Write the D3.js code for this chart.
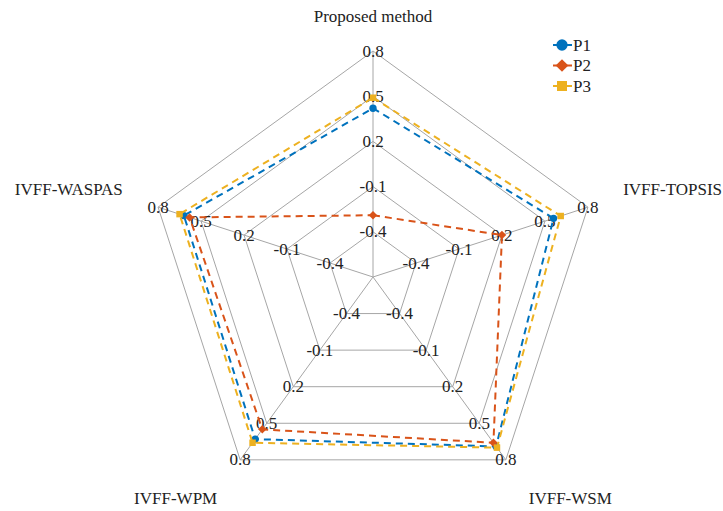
<!DOCTYPE html>
<html><head><meta charset="utf-8">
<script src="https://cdn.jsdelivr.net/npm/d3@7"></script>
<style>body{margin:0;background:#fff}svg{display:block}</style>
</head><body><svg id="c" width="723" height="511"></svg>
<script>
const axesNames = ["Proposed method","IVFF-TOPSIS","IVFF-WSM","IVFF-WPM","IVFF-WASPAS"];
const tickValues = [-0.4,-0.1,0.2,0.5,0.8];
const tickLabels = ["-0.4","-0.1","0.2","0.5","0.8"];
const seriesNames = ["P1","P2","P3"];
const P1 = [0.42, 0.56, 0.69, 0.63, 0.62];
const P2 = [-0.29, 0.20, 0.66, 0.55, 0.58];
const P3 = [0.49, 0.61, 0.70, 0.66, 0.65];
const seriesValues = [P1, P2, P3];
const colors = ["#0072BD","#D95319","#EDB120"];
const symbols = [d3.symbolCircle, d3.symbolSquare, d3.symbolSquare];
const FONT = "'Liberation Serif','Times New Roman',serif";
const FS = 17;

const svg = d3.select("#c");
const cx = 373, cy = 277, R = 226;
const r = d3.scaleLinear().domain([-0.7, 0.8]).range([0, R]);
const ang = d3.scalePoint().domain(d3.range(axesNames.length)).range([0, 2*Math.PI*(axesNames.length-1)/axesNames.length]);
const pt = (i, v) => [cx + r(v)*Math.sin(ang(i)), cy - r(v)*Math.cos(ang(i))];
const idx = d3.range(axesNames.length);

const g = svg.append("g").attr("font-family", FONT);
tickValues.forEach(t => {
  g.append("path").attr("d", d3.line()(idx.map(i => pt(i, t))) + "Z")
    .attr("fill","none").attr("stroke","#a6a6a6").attr("stroke-width",1);
});
idx.forEach(i => {
  const p = pt(i, 0.8);
  g.append("line").attr("x1",cx).attr("y1",cy).attr("x2",p[0]).attr("y2",p[1])
    .attr("stroke","#a6a6a6").attr("stroke-width",1);
});
idx.forEach(i => {
  tickValues.forEach((t, k) => {
    const p = pt(i, t);
    g.append("text").attr("x",p[0]).attr("y",p[1]).attr("text-anchor","middle")
      .attr("dy","0.33em").attr("font-size",FS).attr("fill","#222").text(tickLabels[k]);
  });
});
idx.forEach(i => {
  const a = ang(i);
  const p = [cx + R*1.15*Math.sin(a), cy - R*1.15*Math.cos(a)];
  const s = Math.sin(a), c = Math.cos(a);
  const anchor = Math.abs(s) < 0.1 ? "middle" : (s > 0 ? "start" : "end");
  let dy = c > 0.9 ? 5 : (c > 0 ? -2 : 17);
  g.append("text").attr("x", p[0] + (s>0.1?3:(s<-0.1?-3:0))).attr("y", p[1] + dy)
    .attr("text-anchor", anchor).attr("font-size",FS).attr("fill","#222").text(axesNames[i]);
});
seriesValues.forEach((vals, si) => {
  const pts = vals.map((v,i) => pt(i, v));
  g.append("path").attr("d", d3.line()(pts) + "Z").attr("fill","none")
    .attr("stroke", colors[si]).attr("stroke-width",2).attr("stroke-dasharray","7,5");
  g.selectAll(null).data(pts).enter().append("path")
    .attr("transform", d => `translate(${d[0]},${d[1]})` + (si===1?" rotate(45)":""))
    .attr("d", d3.symbol().type(symbols[si]).size(si===1?36:42))
    .attr("fill", colors[si]);
});
seriesNames.forEach((n, si) => {
  const y = 45 + si*20.5, x0 = 553, x1 = 572, xm = 562;
  const lg = svg.append("g").attr("font-family", FONT);
  lg.append("line").attr("x1",x0).attr("x2",x1).attr("y1",y).attr("y2",y)
    .attr("stroke",colors[si]).attr("stroke-width",2);
  lg.append("path").attr("transform",`translate(${xm},${y})` + (si===1?" rotate(45)":""))
    .attr("d", d3.symbol().type(symbols[si]).size(si===1?80:100)).attr("fill",colors[si]);
  lg.append("text").attr("x",573).attr("y",y).attr("dy","0.35em").attr("font-size",FS).attr("fill","#222").text(n);
});
</script></body></html>
